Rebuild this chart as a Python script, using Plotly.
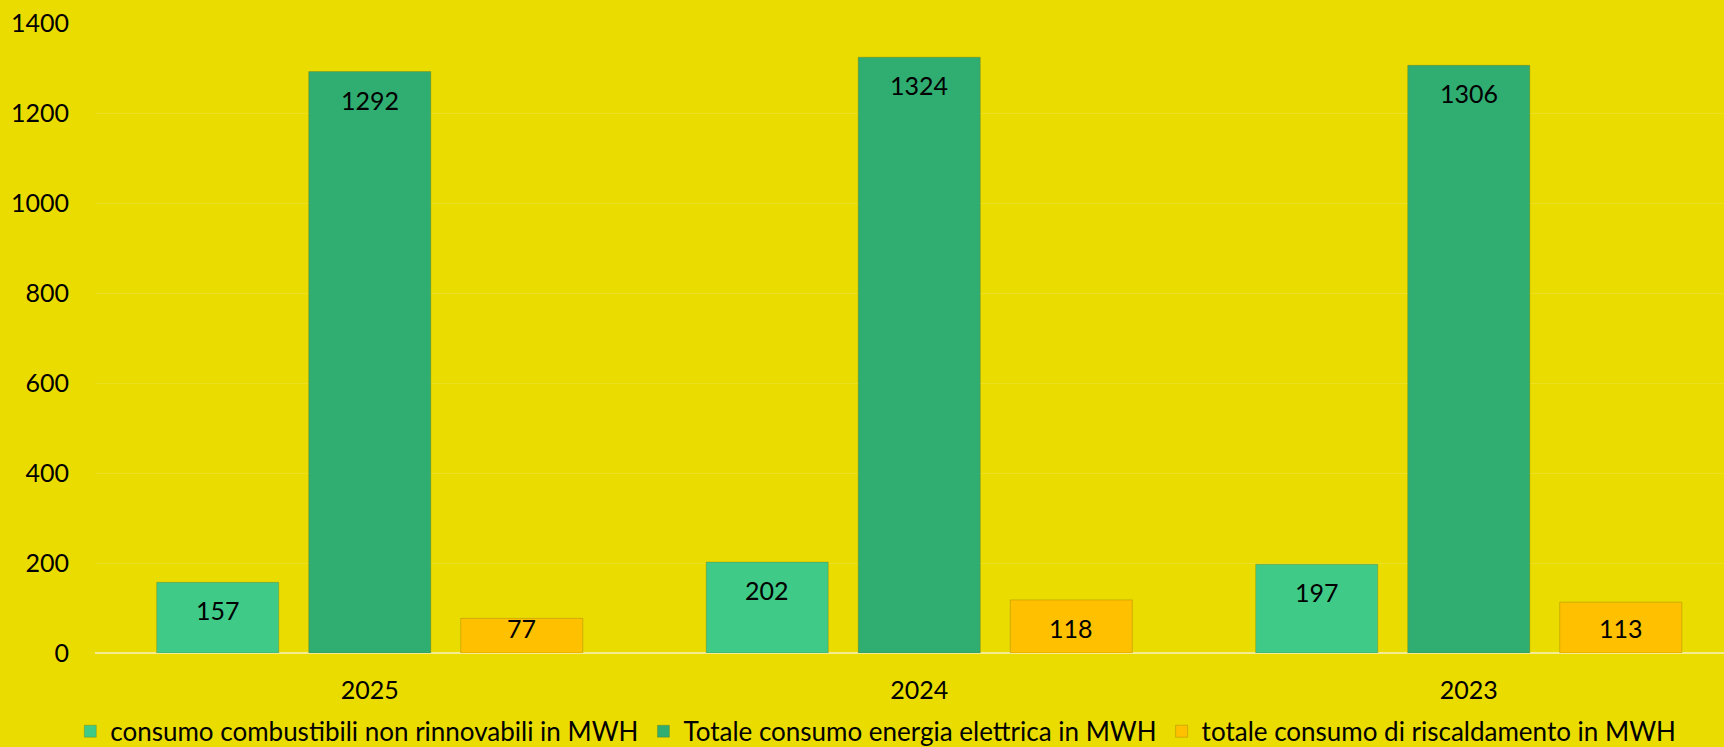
import plotly.graph_objects as go

# Energy consumption per year (MWH)
years = ["2025", "2024", "2023"]
combustibili = [157, 202, 197]
elettrica = [1292, 1324, 1306]
riscaldamento = [77, 118, 113]

series_names = [
    "consumo combustibili non rinnovabili in MWH",
    "Totale consumo energia elettrica in MWH",
    "totale consumo di riscaldamento in MWH",
]
series_values = [combustibili, elettrica, riscaldamento]
series_colors = ["#3FCB87", "#30AE71", "#FFC000"]

y_ticks = [0, 200, 400, 600, 800, 1000, 1200, 1400]

FONT = "Lato, 'Open Sans', sans-serif"
BG = "#EBDC00"
BARGAP = 0.17
BARGROUPGAP = 0.197
LABEL_DROP = 62    # label centre sits this many units below the bar top
LABEL_FLOOR = 55   # ...but never closer to the baseline than this

x_pos = list(range(len(years)))
fig = go.Figure()

for name, vals, col in zip(series_names, series_values, series_colors):
    fig.add_trace(go.Bar(
        x=x_pos, y=vals, name=name,
        marker=dict(color=col, line=dict(color="rgba(110,95,0,0.28)", width=1)),
        hoverinfo="skip",
    ))

# value labels just inside the top of each bar
n = len(series_values)
slot = (1 - BARGAP) / n
annotations = []
for k, vals in enumerate(series_values):
    for i, v in enumerate(vals):
        annotations.append(dict(
            x=x_pos[i] + (k - (n - 1) / 2) * slot,
            y=max(v - LABEL_DROP, LABEL_FLOOR),
            xref="x", yref="y",
            text=str(v), showarrow=False,
            font=dict(family=FONT, size=25, color="#000000"),
            xanchor="center", yanchor="middle",
        ))

W, H = 1724, 747
left, right, top, bottom = 95, 0, 23, 94
cat_px = 549.5
x_max = -0.5 + (W - left - right) / cat_px

fig.update_layout(
    width=W, height=H,
    margin=dict(l=left, r=right, t=top, b=bottom, pad=0),
    paper_bgcolor=BG, plot_bgcolor=BG,
    barmode="group", bargap=BARGAP, bargroupgap=BARGROUPGAP,
    font=dict(family=FONT, size=25, color="#000000"),
    showlegend=True,
    legend=dict(
        orientation="h", xref="container", yref="container",
        x=0.508, y=0.021, xanchor="center", yanchor="middle",
        font=dict(family=FONT, size=26, color="#000000"),
        bgcolor="rgba(0,0,0,0)", itemwidth=30, traceorder="normal",
        itemclick=False, itemdoubleclick=False,
    ),
    annotations=annotations,
)

fig.update_xaxes(
    range=[-0.5, x_max],
    tickmode="array", tickvals=x_pos, ticktext=years,
    showgrid=False, zeroline=False, showline=False, ticks="",
    ticklabelstandoff=20,
    tickfont=dict(family=FONT, size=25, color="#000000"),
    fixedrange=True,
)
fig.update_yaxes(
    range=[0, 1400],
    tickmode="array", tickvals=y_ticks, ticktext=[str(t) for t in y_ticks],
    showgrid=True, gridcolor="#EDDF22", gridwidth=1,
    zeroline=True, zerolinecolor="#F4EB92", zerolinewidth=2,
    showline=False, ticks="",
    ticklabelstandoff=25,
    tickfont=dict(family=FONT, size=25, color="#000000"),
    fixedrange=True,
)

fig.write_html("out.html", config={"displayModeBar": False})
